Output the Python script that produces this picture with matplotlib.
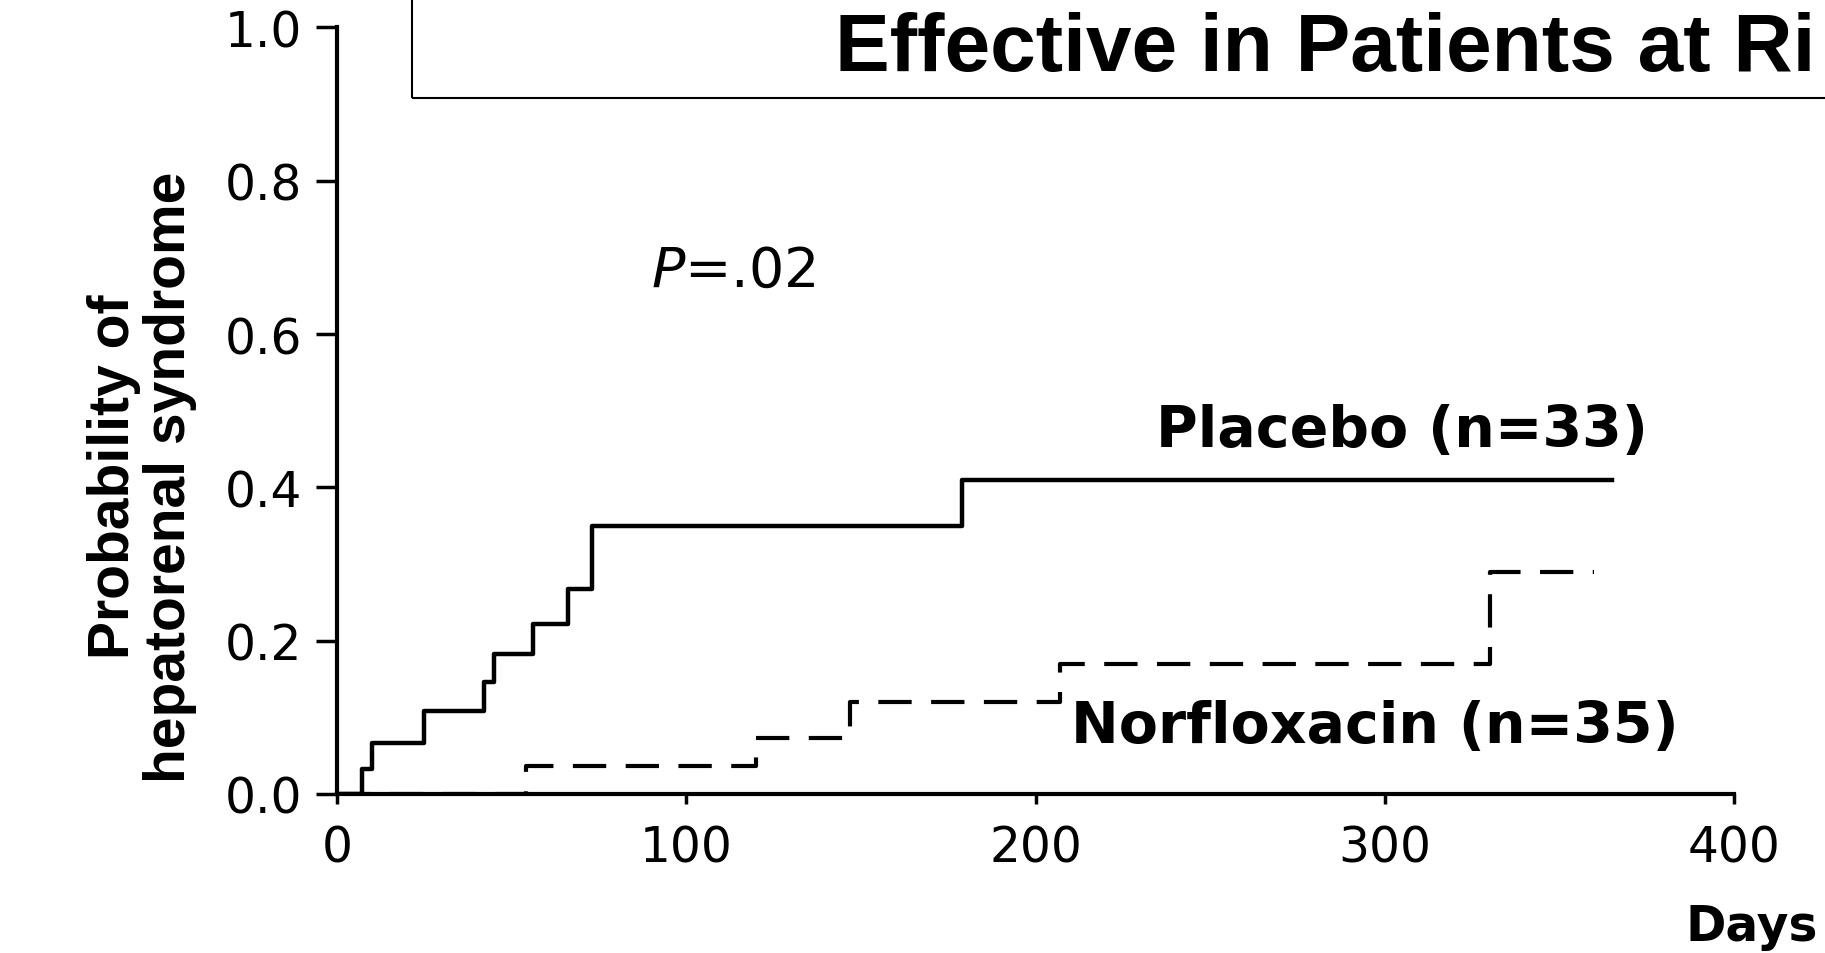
import matplotlib
matplotlib.use("Agg")
import matplotlib.pyplot as plt
from matplotlib.patches import Rectangle

plt.rcParams['font.family'] = ['DejaVu Sans']
plt.rcParams['lines.scale_dashes'] = False
plt.rcParams['mathtext.fontset'] = 'dejavusans'

# Kaplan-Meier steps (day, cumulative probability)
placebo_days = [0, 7, 10, 25, 42, 45, 56, 66, 73, 179, 365]
placebo_prob = [0.0, 0.033, 0.067, 0.108, 0.146, 0.183, 0.222, 0.267, 0.35, 0.41, 0.41]

norflox_days = [0, 54, 120, 147, 207, 330, 360]
norflox_prob = [0.0, 0.036, 0.073, 0.12, 0.17, 0.29, 0.29]

x_ticks = [0, 100, 200, 300, 400]
y_ticks = [0.0, 0.2, 0.4, 0.6, 0.8, 1.0]

# the slide title is cut off at the right edge in the picture
title = "Effective in Patients at Ri"
label_placebo = "Placebo (n=33)"
label_norflox = "Norfloxacin (n=35)"

fig = plt.figure(figsize=(18.25, 9.54), dpi=100)
ax = fig.add_axes([0.1847, 0.1667, 0.7655, 0.8035])

ax.step(placebo_days, placebo_prob, where='post', color='black', lw=3.2)
line, = ax.step(norflox_days, norflox_prob, where='post', color='black', lw=3.0)
line.set_dashes((24, 14))

ax.set_xlim(0, 400)
ax.set_ylim(0, 1.0)
ax.set_xticks(x_ticks)
ax.set_yticks(y_ticks)
ax.set_yticklabels([f"{v:.1f}" for v in y_ticks])
ax.tick_params(axis='both', labelsize=35, width=2.5, color='black')
ax.tick_params(axis='y', length=15, pad=10)
ax.tick_params(axis='x', length=7, pad=14)
for s in ['top', 'right']:
    ax.spines[s].set_visible(False)
for s in ['left', 'bottom']:
    ax.spines[s].set_linewidth(3.0)
    ax.spines[s].set_clip_on(False)
ax.spines['left'].set_bounds(0, 1.0)

ax.text(90, 0.663, "$\\it{P}$=.02", fontsize=40, va='baseline', ha='left')
ax.text(234.5, 0.454, label_placebo, fontsize=41, fontweight='bold',
        va='baseline', ha='left')
ax.text(210, 0.068, label_norflox, fontsize=41, fontweight='bold',
        va='baseline', ha='left')
ax.text(386, -0.19, "Days", fontsize=35, fontweight='bold', va='baseline',
        ha='left', clip_on=False)

fig.text(0.078, 0.5, "Probability of\nhepatorenal syndrome", rotation=90,
         fontsize=41, fontweight='bold', ha='center', va='center', linespacing=1.05,
         family=['Liberation Sans', 'DejaVu Sans'])

# title box, cut off at the top and right edge
fig.patches.append(Rectangle((0.2258, 0.896), 0.9, 0.2, transform=fig.transFigure,
                             fill=False, edgecolor='black', lw=1.5, clip_on=False))
fig.text(0.4575, 0.9256, title, fontsize=59, fontweight='bold', ha='left',
         va='baseline', family=['Liberation Sans', 'DejaVu Sans'])

fig.savefig("out.png", dpi=100, facecolor='white')
